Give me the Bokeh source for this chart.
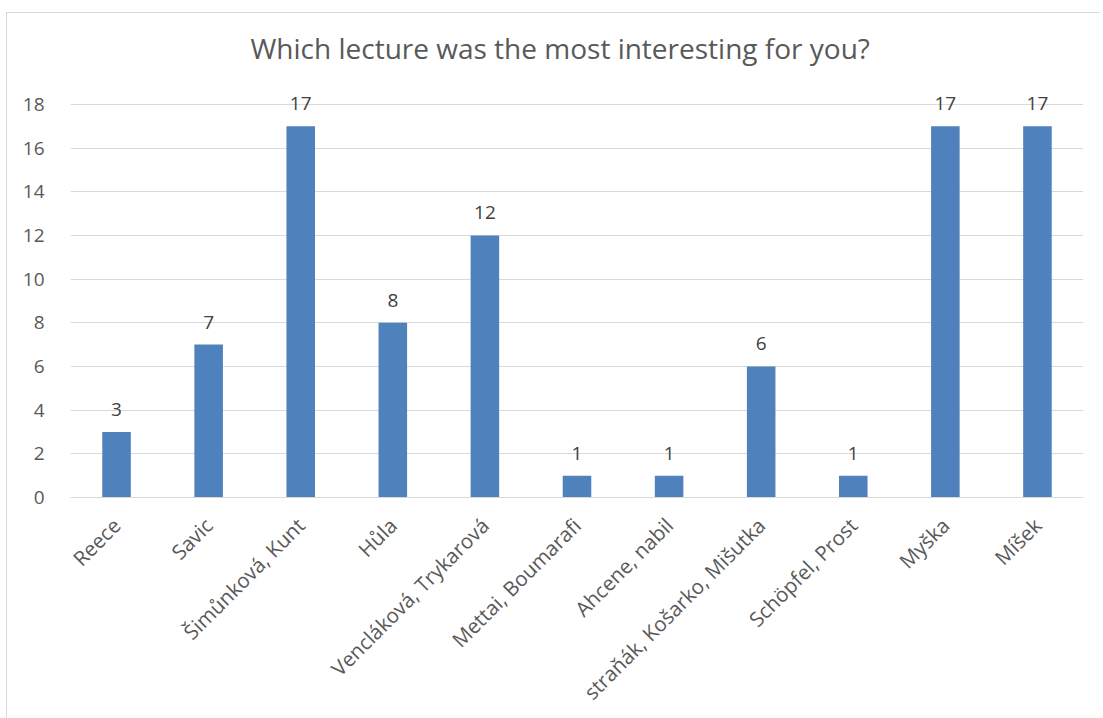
from bokeh.plotting import figure
from bokeh.models import ColumnDataSource, FactorRange, Range1d, FixedTicker
from bokeh.core.properties import value
from bokeh.embed import file_html
from bokeh.resources import INLINE
import math

title_text = "Which lecture was the most interesting for you?"
categories = ["Reece", "Savic", "Šimůnková, Kunt", "Hůla", "Vencláková, Trykarová",
              "Mettai, Boumarafi", "Ahcene, nabil", "straňák, Košarko, Mišutka",
              "Schöpfel, Prost", "Myška", "Míšek"]
counts = [3, 7, 17, 8, 12, 1, 1, 6, 1, 17, 17]
y_ticks = [0, 2, 4, 6, 8, 10, 12, 14, 16, 18]

FONT = "Open Sans"
GREY = "#595959"

source = ColumnDataSource(data=dict(cat=categories, val=counts,
                                    lbl=[str(v) for v in counts]))

chart_border = {
    "background-color": "white",
    "background-image": "linear-gradient(#d9d9d9, #d9d9d9), linear-gradient(#d9d9d9, #d9d9d9)",
    "background-size": "1px 100%, 100% 1px",
    "background-position": "6px 12px, 6px 12px",
    "background-repeat": "no-repeat",
}

p = figure(x_range=FactorRange(*categories, range_padding=0),
           y_range=Range1d(0, 19),
           width=1100, height=718,
           output_backend="svg", toolbar_location=None,
           min_border_left=70, min_border_right=17,
           min_border_top=82, min_border_bottom=221,
           styles=chart_border)

p.vbar(x="cat", top="val", width=0.31, source=source,
       fill_color="#4F81BD", line_color=None)

p.text(x="cat", y="val", text="lbl", source=source,
       text_align="center", text_baseline="bottom", y_offset=-16,
       text_font=value(FONT), text_font_size="19px", text_color="#404040")

p.title.text = title_text
p.title.align = "left"
p.title.text_font = FONT
p.title.text_font_size = "28px"
p.title.text_font_style = "normal"
p.title.text_color = GREY
p.title.standoff = 31
p.title.offset = 180

p.outline_line_color = None
p.background_fill_color = "white"
p.border_fill_color = None

p.xgrid.grid_line_color = None
p.ygrid.grid_line_color = "#d9d9d9"
p.ygrid.grid_line_width = 1
p.yaxis.ticker = FixedTicker(ticks=y_ticks)

for ax in (p.xaxis, p.yaxis):
    ax.axis_line_color = None
    ax.major_tick_line_color = None
    ax.minor_tick_line_color = None
    ax.major_label_text_font = FONT
    ax.major_label_text_color = GREY

p.yaxis.major_label_text_font_size = "19px"
p.xaxis.major_label_text_font_size = "20.5px"
p.xaxis.axis_line_color = "#d9d9d9"
p.xaxis.major_label_orientation = math.pi / 4
p.xaxis.major_label_standoff = 18
p.yaxis.major_label_standoff = 20

open("out.html", "w").write(file_html(p, INLINE))
